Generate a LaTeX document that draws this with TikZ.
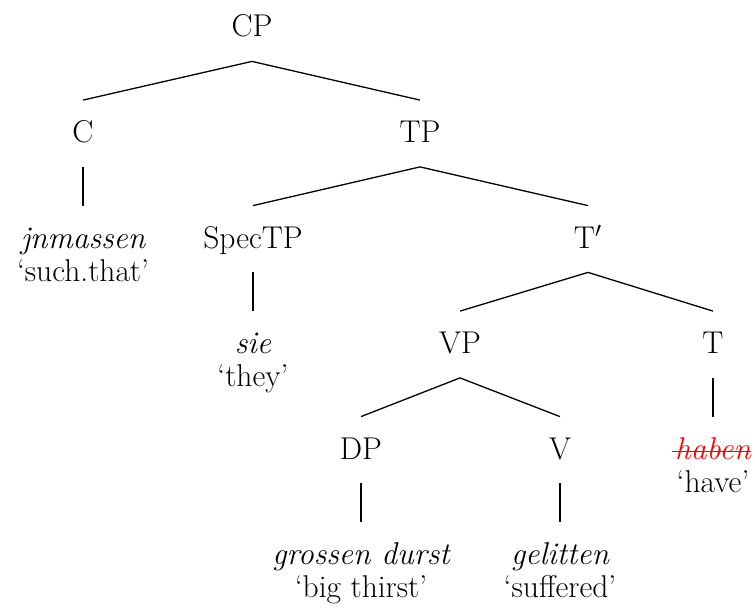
\documentclass[tikz,border=0pt]{standalone}
\usepackage{fontspec}
\usepackage{xcolor}
\usepackage{tikz}
\usetikzlibrary{positioning}
\definecolor{treered}{HTML}{FF0000}
% struck-through word
\newsavebox\struckbox
\newcommand\struckword[1]{%
    \sbox\struckbox{#1}%
    \rlap{\kern-0.1em\rule[0.22em]{\dimexpr\wd\struckbox+0.1em\relax}{0.045em}}\usebox\struckbox}
\tikzset{
    % Category label
    catnode/.style={
        rectangle,
        font=\fontsize{15.75}{18}\selectfont,
        text height=13pt,
        text depth=4pt,
        inner xsep=2pt,
        inner ysep=8pt
    },
    % Object-language word
    wordnode/.style={
        catnode,
        font=\fontsize{15.75}{18}\selectfont\itshape
    },
    % Translation under a word
    glossnode/.style={
        catnode
    },
    % Branch line
    branch/.style={
        draw=black,
        line width=0.65pt
    }
}

\begin{document}
\begin{tikzpicture}[on grid, node distance=52.75pt]
    \useasboundingbox (-126pt,14pt) rectangle (251.5pt,-293.5pt);

    \node[catnode] (cp) {CP};
    \node[catnode, below left=52.75pt and 84.5pt of cp] (c) {C};
    \node[catnode, below right=52.75pt and 84pt of cp] (tp) {TP};

    \node[wordnode, below=of c] (c-word) {jnmassen};
    \node[glossnode, below=16.5pt of c-word] (c-gloss) {`such.that'};

    \node[catnode, below left=52.75pt and 83.5pt of tp] (spec) {SpecTP};
    \node[catnode, below right=52.75pt and 84pt of tp] (tbar) {T$'$};

    \node[wordnode, below=of spec] (spec-word) {sie};
    \node[glossnode, below=16.5pt of spec-word] (spec-gloss) {`they'};

    \node[catnode, below left=52.75pt and 64pt of tbar] (vp) {VP};
    \node[catnode, below right=52.75pt and 62.5pt of tbar] (t) {T};

    \node[wordnode, text=treered, below=of t] (t-word) {\struckword{haben}};
    \node[glossnode, below=16.5pt of t-word] (t-gloss) {`have'};

    \node[catnode, below left=52.75pt and 49.5pt of vp] (dp) {DP};
    \node[catnode, below right=52.75pt and 50pt of vp] (v) {V};

    \node[wordnode, below=of dp] (dp-word) {grossen durst};
    \node[glossnode, below=16.5pt of dp-word] (dp-gloss) {`big thirst'};
    \node[wordnode, below=of v] (v-word) {gelitten};
    \node[glossnode, below=16.5pt of v-word] (v-gloss) {`suffered'};

    % branches
    \foreach \up/\down in {cp/c, cp/tp, c/c-word, tp/spec, tp/tbar, spec/spec-word,
                           tbar/vp, tbar/t, t/t-word, vp/dp, vp/v, dp/dp-word, v/v-word}
        \draw[branch] (\up.south) -- (\down.north);
\end{tikzpicture}
\end{document}
